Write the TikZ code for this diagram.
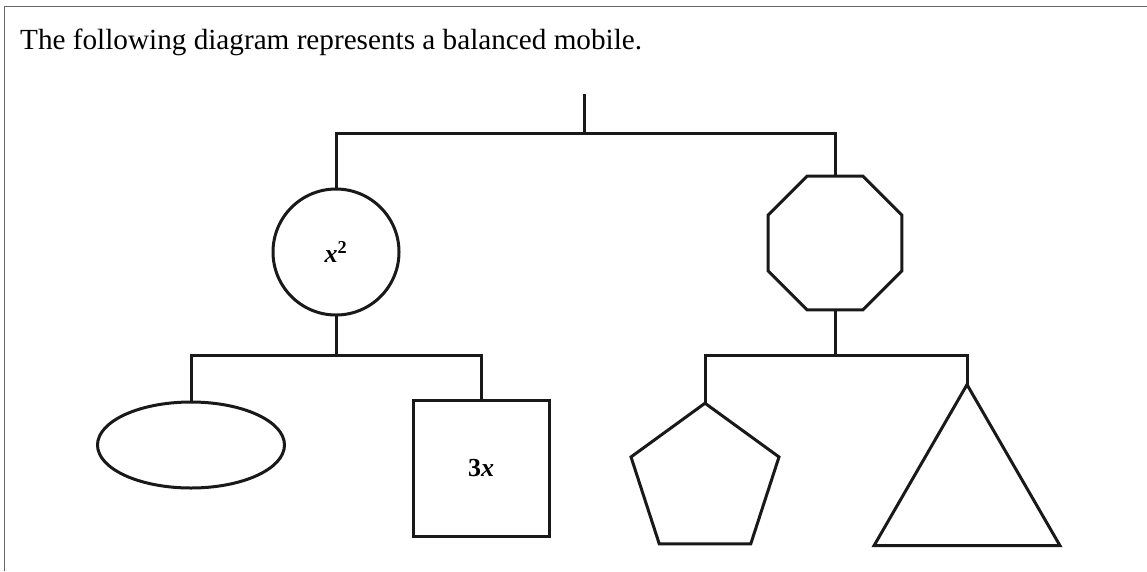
\documentclass[tikz,border=0pt]{standalone}
\usepackage{fontspec}
\setmainfont{Liberation Serif}
\usetikzlibrary{shapes.geometric, positioning}
\tikzset{
  frameline/.style={draw=black!60, line width=1.6pt},
  cord/.style={draw=black!90, line width=3pt},
  weight/.style={draw=black!90, line width=3pt, inner sep=0pt, outer sep=0pt,
                 font=\fontsize{26}{30}\selectfont\bfseries}
}

\begin{document}
\begin{tikzpicture}[x=1pt, y=-1pt]
\useasboundingbox (0,0) rectangle (1147,571);

% Frame
\draw[frameline] (4.5,571) -- (4.5,6.5) -- (1147,6.5);

% Title
\node[anchor=base west, inner sep=0pt, font=\fontsize{29.2}{34}\selectfont] (title) at (20,49)
  {The following diagram represents a balanced mobile.};

% Hooks and bars
\coordinate (hang) at (584,94);
\coordinate (barTop) at (584,133);
\coordinate (barL) at (336,355);
\coordinate (barR) at (835,355);

% Upper level
\node[weight, circle, minimum size=126pt] (circ) at (336,252) {\itshape x\textsuperscript{\upshape 2}};
\node[weight, regular polygon, regular polygon sides=8, minimum size=145pt] (oct) at (835,243) {};

% Lower level, left
\node[weight, ellipse, minimum width=187pt, minimum height=86pt] (ell) at (191,445) {};
\node[weight, rectangle, minimum size=136pt] (sq) at (481,468) {3\itshape x};

% Lower level, right
\node[weight, regular polygon, regular polygon sides=5, minimum size=155.6pt] (pent) at (705,481) {};
\node[weight, regular polygon, regular polygon sides=3, minimum size=214.8pt] (tri) at (967,492) {};

% Cords
\draw[cord] (hang) -- (barTop);
\draw[cord] (circ.north) |- (barTop) -| (oct.north);
\draw[cord] (circ.south) -- (barL);
\draw[cord] (ell.north) |- (barL) -| (sq.north);
\draw[cord] (oct.south) -- (barR);
\draw[cord] (pent.north) |- (barR) -| (tri.north);

\end{tikzpicture}
\end{document}
